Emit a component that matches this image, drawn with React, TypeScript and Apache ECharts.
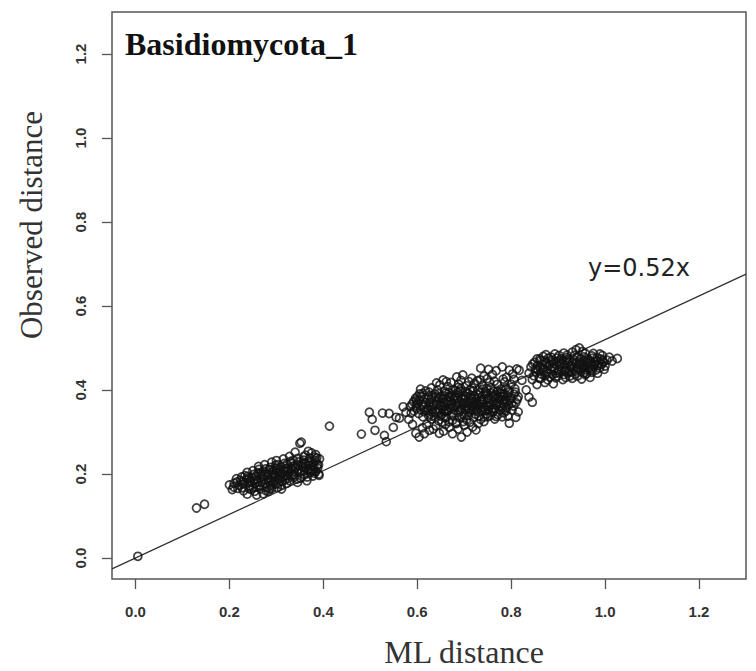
import React, { useEffect, useRef } from "react";
import * as echarts from "echarts";

// ---- data ----
const X_TICKS = [0, 0.2, 0.4, 0.6, 0.8, 1.0, 1.2];
const Y_TICKS = [0, 0.2, 0.4, 0.6, 0.8, 1.0, 1.2];
const AXIS_MIN = -0.05;
const AXIS_MAX = 1.3;
const SLOPE = 0.52;
const FIT_LABEL = "y=0.52x";
const TITLE = "Basidiomycota_1";
const X_NAME = "ML distance";
const Y_NAME = "Observed distance";

const singles: number[][] = [
  [0.005, 0.004], [0.13, 0.119], [0.147, 0.128],
];

const clusterA: number[][] = [
  [0.362, 0.245], [0.375, 0.25], [0.384, 0.246], [0.368, 0.254], [0.35, 0.273], [0.328, 0.242], [0.34, 0.252],
  [0.3, 0.232], [0.315, 0.236], [0.33, 0.23], [0.345, 0.237], [0.358, 0.233], [0.371, 0.238], [0.383, 0.232], [0.392, 0.236], [0.29, 0.228],
  [0.262, 0.218], [0.275, 0.222], [0.287, 0.216], [0.298, 0.221], [0.31, 0.217], [0.322, 0.223], [0.334, 0.218], [0.346, 0.222], [0.357, 0.216], [0.368, 0.221], [0.38, 0.217], [0.39, 0.222],
  [0.238, 0.204], [0.25, 0.208], [0.261, 0.203], [0.272, 0.207], [0.283, 0.202], [0.294, 0.208], [0.305, 0.203], [0.316, 0.207], [0.327, 0.202], [0.338, 0.206], [0.349, 0.203], [0.36, 0.207], [0.372, 0.204], [0.384, 0.206], [0.39, 0.2],
  [0.215, 0.189], [0.226, 0.193], [0.237, 0.188], [0.248, 0.192], [0.259, 0.187], [0.27, 0.193], [0.281, 0.188], [0.292, 0.192], [0.303, 0.187], [0.314, 0.193], [0.325, 0.189], [0.338, 0.192], [0.352, 0.19], [0.366, 0.193], [0.378, 0.195],
  [0.2, 0.174], [0.21, 0.178], [0.221, 0.173], [0.232, 0.177], [0.243, 0.172], [0.254, 0.178], [0.265, 0.173], [0.276, 0.177], [0.287, 0.172], [0.298, 0.176], [0.31, 0.174], [0.322, 0.178], [0.345, 0.18],
  [0.206, 0.163], [0.218, 0.166], [0.23, 0.16], [0.242, 0.165], [0.254, 0.159], [0.266, 0.164], [0.278, 0.16], [0.29, 0.165], [0.302, 0.168], [0.238, 0.152], [0.258, 0.15], [0.272, 0.153],
  [0.377, 0.209], [0.391, 0.197], [0.353, 0.276], [0.268, 0.197], [0.284, 0.182], [0.306, 0.212], [0.318, 0.198], [0.245, 0.184], [0.229, 0.182], [0.332, 0.212], [0.356, 0.226], [0.373, 0.227],
];

const clusterA2: number[][] = [
  [0.224, 0.185], [0.233, 0.196], [0.241, 0.179], [0.252, 0.199], [0.257, 0.169], [0.263, 0.211], [0.269, 0.181], [0.274, 0.199],
  [0.279, 0.168], [0.285, 0.21], [0.289, 0.185], [0.295, 0.199], [0.299, 0.214], [0.304, 0.177], [0.308, 0.196], [0.313, 0.183],
  [0.319, 0.212], [0.323, 0.196], [0.328, 0.184], [0.331, 0.226], [0.336, 0.198], [0.341, 0.215], [0.344, 0.188], [0.348, 0.229],
  [0.353, 0.207], [0.359, 0.199], [0.363, 0.214], [0.369, 0.23], [0.374, 0.211], [0.379, 0.226], [0.386, 0.238], [0.388, 0.214],
  [0.381, 0.202], [0.365, 0.184], [0.247, 0.163], [0.261, 0.181], [0.283, 0.159], [0.296, 0.182], [0.311, 0.164], [0.227, 0.167],
  [0.216, 0.181], [0.209, 0.169], [0.292, 0.204], [0.277, 0.212], [0.256, 0.194], [0.336, 0.232], [0.317, 0.225], [0.302, 0.222],
];

const clusterA3: number[][] = [
  [0.228, 0.176], [0.239, 0.194], [0.251, 0.185], [0.262, 0.171], [0.267, 0.203], [0.273, 0.188], [0.281, 0.197], [0.286, 0.165],
  [0.293, 0.178], [0.297, 0.194], [0.306, 0.188], [0.312, 0.202], [0.318, 0.186], [0.326, 0.209], [0.333, 0.196], [0.339, 0.22],
  [0.347, 0.211], [0.355, 0.218], [0.361, 0.225], [0.367, 0.209], [0.376, 0.218], [0.382, 0.24], [0.251, 0.168], [0.242, 0.19],
  [0.322, 0.214], [0.358, 0.241], [0.387, 0.222], [0.301, 0.209],
];

const middle: number[][] = [
  [0.413, 0.314], [0.481, 0.295], [0.498, 0.347], [0.504, 0.33], [0.51, 0.304], [0.526, 0.345], [0.53, 0.292], [0.534, 0.277],
  [0.54, 0.344], [0.549, 0.311], [0.555, 0.335], [0.562, 0.333], [0.576, 0.347], [0.587, 0.345], [0.598, 0.375], [0.57, 0.36],
  [0.582, 0.33], [0.59, 0.318],
];

const clusterB: number[][] = [
  [0.735, 0.452], [0.768, 0.446], [0.796, 0.447], [0.752, 0.449], [0.781, 0.455], [0.812, 0.45],
  [0.655, 0.424], [0.684, 0.431], [0.697, 0.436], [0.716, 0.428], [0.742, 0.433], [0.76, 0.437], [0.79, 0.43], [0.803, 0.438], [0.672, 0.418], [0.728, 0.422],
  [0.63, 0.405], [0.648, 0.412], [0.665, 0.408], [0.688, 0.414], [0.705, 0.41], [0.722, 0.416], [0.738, 0.411], [0.754, 0.418], [0.77, 0.413], [0.786, 0.419], [0.8, 0.414], [0.618, 0.398], [0.676, 0.401], [0.712, 0.4], [0.748, 0.404], [0.778, 0.402], [0.795, 0.399],
  [0.6, 0.384], [0.612, 0.392], [0.624, 0.386], [0.637, 0.391], [0.65, 0.385], [0.661, 0.393], [0.674, 0.388], [0.686, 0.394], [0.698, 0.387], [0.709, 0.392], [0.721, 0.386], [0.733, 0.394], [0.744, 0.389], [0.757, 0.393], [0.768, 0.388], [0.78, 0.391], [0.792, 0.386], [0.806, 0.39],
  [0.592, 0.372], [0.605, 0.376], [0.617, 0.37], [0.629, 0.378], [0.642, 0.373], [0.654, 0.379], [0.666, 0.371], [0.678, 0.377], [0.69, 0.372], [0.702, 0.379], [0.714, 0.374], [0.726, 0.378], [0.738, 0.371], [0.75, 0.377], [0.762, 0.373], [0.774, 0.379], [0.786, 0.372], [0.798, 0.376], [0.81, 0.37],
  [0.585, 0.36], [0.598, 0.356], [0.61, 0.363], [0.622, 0.357], [0.634, 0.362], [0.646, 0.355], [0.658, 0.361], [0.67, 0.357], [0.682, 0.363], [0.694, 0.356], [0.706, 0.362], [0.718, 0.358], [0.73, 0.364], [0.742, 0.357], [0.754, 0.361], [0.766, 0.356], [0.778, 0.362], [0.79, 0.358], [0.802, 0.352],
  [0.603, 0.344], [0.615, 0.348], [0.628, 0.342], [0.64, 0.347], [0.652, 0.341], [0.664, 0.348], [0.676, 0.343], [0.688, 0.346], [0.7, 0.34], [0.712, 0.347], [0.724, 0.342], [0.736, 0.349], [0.748, 0.343], [0.76, 0.347], [0.772, 0.341], [0.784, 0.346], [0.81, 0.335],
  [0.63, 0.331], [0.645, 0.327], [0.66, 0.333], [0.675, 0.328], [0.69, 0.334], [0.705, 0.329], [0.72, 0.335], [0.735, 0.33], [0.75, 0.336], [0.765, 0.331], [0.796, 0.321], [0.683, 0.322],
  [0.604, 0.288], [0.626, 0.304], [0.647, 0.297], [0.668, 0.311], [0.694, 0.288], [0.683, 0.32], [0.64, 0.315], [0.656, 0.302], [0.615, 0.296], [0.675, 0.296], [0.706, 0.3], [0.718, 0.312], [0.66, 0.318], [0.7, 0.316], [0.62, 0.318], [0.73, 0.32],
  [0.641, 0.366], [0.693, 0.381], [0.727, 0.367], [0.761, 0.383], [0.667, 0.384], [0.711, 0.354], [0.745, 0.396], [0.623, 0.352], [0.687, 0.406], [0.775, 0.367], [0.657, 0.348], [0.719, 0.397],
];

const clusterB2: number[][] = [
  [0.641, 0.417], [0.662, 0.42], [0.693, 0.423], [0.71, 0.42], [0.734, 0.424], [0.749, 0.427], [0.764, 0.421], [0.783, 0.426], [0.806, 0.425],
  [0.607, 0.402], [0.625, 0.395], [0.643, 0.4], [0.658, 0.397], [0.681, 0.399], [0.693, 0.403], [0.717, 0.405], [0.73, 0.4], [0.757, 0.406], [0.771, 0.398], [0.789, 0.405], [0.808, 0.403],
  [0.596, 0.38], [0.608, 0.385], [0.631, 0.383], [0.645, 0.38], [0.657, 0.386], [0.671, 0.382], [0.68, 0.386], [0.704, 0.384], [0.717, 0.38], [0.738, 0.384], [0.751, 0.381], [0.772, 0.382], [0.785, 0.385], [0.799, 0.381], [0.815, 0.384],
  [0.589, 0.366], [0.601, 0.369], [0.613, 0.366], [0.635, 0.368], [0.648, 0.365], [0.662, 0.367], [0.673, 0.366], [0.686, 0.368], [0.697, 0.364], [0.709, 0.368], [0.723, 0.365], [0.735, 0.367], [0.748, 0.363], [0.758, 0.368], [0.769, 0.364], [0.783, 0.366], [0.794, 0.364], [0.805, 0.362],
  [0.593, 0.35], [0.607, 0.353], [0.619, 0.35], [0.632, 0.354], [0.644, 0.349], [0.653, 0.354], [0.666, 0.351], [0.679, 0.352], [0.691, 0.35], [0.703, 0.353], [0.716, 0.351], [0.728, 0.355], [0.74, 0.351], [0.752, 0.353], [0.763, 0.35], [0.777, 0.352], [0.789, 0.35], [0.815, 0.348],
  [0.612, 0.336], [0.624, 0.339], [0.637, 0.336], [0.649, 0.338], [0.661, 0.336], [0.672, 0.339], [0.695, 0.337], [0.709, 0.339], [0.731, 0.338], [0.743, 0.336], [0.756, 0.339], [0.768, 0.337], [0.781, 0.336], [0.793, 0.338],
  [0.652, 0.323], [0.668, 0.324], [0.698, 0.325], [0.712, 0.323], [0.742, 0.325], [0.634, 0.307], [0.611, 0.31], [0.687, 0.307], [0.725, 0.305], [0.597, 0.297],
];

const clusterB3: number[][] = [
  [0.614, 0.359], [0.627, 0.371], [0.639, 0.384], [0.651, 0.362], [0.663, 0.376], [0.668, 0.394], [0.677, 0.359], [0.684, 0.381],
  [0.691, 0.397], [0.699, 0.369], [0.707, 0.356], [0.713, 0.386], [0.721, 0.372], [0.729, 0.389], [0.736, 0.359], [0.741, 0.378],
  [0.747, 0.392], [0.753, 0.369], [0.759, 0.356], [0.765, 0.385], [0.771, 0.371], [0.776, 0.392], [0.782, 0.358], [0.788, 0.378],
  [0.795, 0.394], [0.801, 0.368], [0.619, 0.381], [0.633, 0.347], [0.646, 0.391], [0.659, 0.352], [0.672, 0.373], [0.688, 0.359],
  [0.703, 0.396], [0.717, 0.361], [0.733, 0.376], [0.746, 0.351], [0.763, 0.397], [0.779, 0.383], [0.792, 0.372], [0.809, 0.395],
  [0.605, 0.391], [0.626, 0.361], [0.655, 0.371], [0.697, 0.377], [0.726, 0.35], [0.739, 0.402], [0.767, 0.366], [0.785, 0.392],
  [0.813, 0.378], [0.598, 0.363],
];

const clusterC: number[][] = [
  [0.945, 0.5], [0.93, 0.49], [0.952, 0.492], [0.938, 0.496],
  [0.868, 0.48], [0.885, 0.478], [0.902, 0.482], [0.918, 0.477], [0.935, 0.483], [0.955, 0.479], [0.972, 0.481], [0.994, 0.482], [1.009, 0.478], [1.026, 0.475], [0.855, 0.474],
  [0.85, 0.466], [0.862, 0.47], [0.874, 0.465], [0.886, 0.471], [0.898, 0.466], [0.91, 0.47], [0.922, 0.465], [0.934, 0.471], [0.946, 0.466], [0.958, 0.47], [0.97, 0.465], [0.982, 0.469], [0.996, 0.466], [1.015, 0.469],
  [0.842, 0.455], [0.856, 0.458], [0.868, 0.452], [0.88, 0.457], [0.892, 0.451], [0.904, 0.456], [0.916, 0.452], [0.928, 0.458], [0.94, 0.453], [0.952, 0.457], [0.964, 0.451], [0.976, 0.456], [0.988, 0.452], [1.0, 0.457],
  [0.838, 0.44], [0.852, 0.444], [0.864, 0.438], [0.876, 0.443], [0.888, 0.437], [0.9, 0.442], [0.912, 0.437], [0.924, 0.443], [0.936, 0.438], [0.948, 0.444], [0.96, 0.439], [0.972, 0.442], [0.984, 0.44],
  [0.845, 0.425], [0.86, 0.428], [0.878, 0.424], [0.895, 0.429], [0.91, 0.425], [0.93, 0.428], [0.95, 0.426], [0.968, 0.43],
  [0.855, 0.413], [0.872, 0.418], [0.89, 0.415], [0.823, 0.423], [0.817, 0.447], [0.838, 0.383], [0.845, 0.371], [0.832, 0.4],
  [0.881, 0.462], [0.917, 0.446], [0.943, 0.461], [0.963, 0.474], [0.907, 0.474], [0.869, 0.447], [0.957, 0.448], [0.925, 0.433],
];

const clusterC2: number[][] = [
  [0.857, 0.447], [0.866, 0.461], [0.872, 0.434], [0.879, 0.476], [0.884, 0.449], [0.891, 0.463], [0.896, 0.44], [0.903, 0.469],
  [0.907, 0.447], [0.913, 0.461], [0.919, 0.472], [0.921, 0.441], [0.926, 0.456], [0.931, 0.467], [0.937, 0.445], [0.941, 0.477],
  [0.944, 0.449], [0.949, 0.462], [0.955, 0.441], [0.961, 0.459], [0.966, 0.469], [0.969, 0.446], [0.974, 0.476], [0.978, 0.461],
  [0.981, 0.448], [0.987, 0.463], [0.991, 0.474], [0.998, 0.449], [1.004, 0.471], [0.986, 0.458], [0.863, 0.427], [0.882, 0.431],
  [0.899, 0.433], [0.916, 0.43], [0.941, 0.433], [0.958, 0.436], [0.848, 0.434], [0.852, 0.451], [0.846, 0.462], [0.861, 0.474],
  [0.874, 0.484], [0.893, 0.486], [0.912, 0.488], [0.958, 0.487], [0.975, 0.487], [0.989, 0.486],
];

const clusterC3: number[][] = [
  [0.862, 0.451], [0.871, 0.469], [0.889, 0.455], [0.897, 0.476], [0.905, 0.462], [0.914, 0.446], [0.923, 0.469], [0.932, 0.452],
  [0.939, 0.463], [0.947, 0.474], [0.953, 0.452], [0.962, 0.464], [0.967, 0.455], [0.977, 0.467], [0.983, 0.477], [0.993, 0.461],
  [0.877, 0.439], [0.901, 0.447], [0.929, 0.444], [0.954, 0.468], [0.971, 0.452], [0.995, 0.471], [0.919, 0.483], [0.886, 0.467],
];

const LINE_X = [AXIS_MIN, AXIS_MAX];

export default function App() {
  const ref = useRef<HTMLDivElement>(null);
  useEffect(() => {
    if (!ref.current) return;
    const chart = echarts.init(ref.current, null, { renderer: "svg" });
    const points = [
      ...singles, ...clusterA, ...clusterA2, ...clusterA3, ...middle,
      ...clusterB, ...clusterB2, ...clusterB3, ...clusterC, ...clusterC2, ...clusterC3,
    ];
    const tickLabel = {
      fontFamily: "Liberation Sans, Arial, sans-serif",
      fontWeight: "bold" as const,
      fontSize: 15,
      color: "#333",
    };
    const TICK_LEN = 10;
    const tickStyle = { color: "#555", width: 1.3 };
    chart.setOption({
      animation: false,
      grid: {
        left: 112,
        top: 12,
        right: 10,
        bottom: 92,
        show: true,
        borderColor: "#555",
        borderWidth: 1.5,
      },
      xAxis: {
        type: "value",
        min: AXIS_MIN,
        max: AXIS_MAX,
        axisLine: { show: false, onZero: false },
        splitLine: { show: false },
        axisTick: {
          show: true,
          length: TICK_LEN,
          customValues: X_TICKS,
          lineStyle: tickStyle,
        },
        axisLabel: {
          ...tickLabel,
          margin: 25,
          customValues: X_TICKS,
          formatter: (v: number) => v.toFixed(1),
        },
      },
      yAxis: {
        type: "value",
        min: AXIS_MIN,
        max: AXIS_MAX,
        axisLine: { show: false, onZero: false },
        splitLine: { show: false },
        axisTick: {
          show: true,
          length: TICK_LEN,
          customValues: Y_TICKS,
          lineStyle: tickStyle,
        },
        axisLabel: {
          ...tickLabel,
          rotate: 90,
          margin: 24,
          customValues: Y_TICKS,
          formatter: (v: number) => v.toFixed(1),
        },
      },
      series: [
        {
          type: "line",
          data: LINE_X.map((x) => [x, SLOPE * x]),
          showSymbol: false,
          symbol: "none",
          lineStyle: { color: "#333", width: 1.3 },
          clip: true,
          silent: true,
          z: 2,
        },
        {
          type: "scatter",
          data: points,
          symbol: "circle",
          symbolSize: 8,
          itemStyle: {
            color: "rgba(0,0,0,0)",
            borderColor: "#111",
            borderWidth: 1.7,
          },
          silent: true,
          z: 3,
        },
      ],
      graphic: [
        {
          type: "text",
          left: 125,
          top: 28,
          style: {
            text: TITLE,
            font: "bold 32px 'Liberation Serif', 'Times New Roman', serif",
            fill: "#111",
          },
        },
        {
          type: "text",
          x: 588,
          y: 268,
          style: {
            text: FIT_LABEL,
            font: "24px 'DejaVu Sans', 'Noto Sans', sans-serif",
            fill: "#222",
            textAlign: "left",
            textVerticalAlign: "middle",
          },
        },
        {
          type: "text",
          x: 464,
          y: 652,
          style: {
            text: X_NAME,
            font: "32px 'Liberation Serif', 'Times New Roman', serif",
            fill: "#333",
            textAlign: "center",
            textVerticalAlign: "middle",
          },
        },
        {
          type: "text",
          x: 31,
          y: 225,
          rotation: Math.PI / 2,
          style: {
            text: Y_NAME,
            font: "31px 'Liberation Serif', 'Times New Roman', serif",
            fill: "#333",
            textAlign: "center",
            textVerticalAlign: "middle",
          },
        },
      ],
    });
    return () => chart.dispose();
  }, []);
  return (
    <div
      ref={ref}
      style={{ position: "absolute", left: 0, top: 0, width: 756, height: 671, background: "#fff" }}
    />
  );
}
